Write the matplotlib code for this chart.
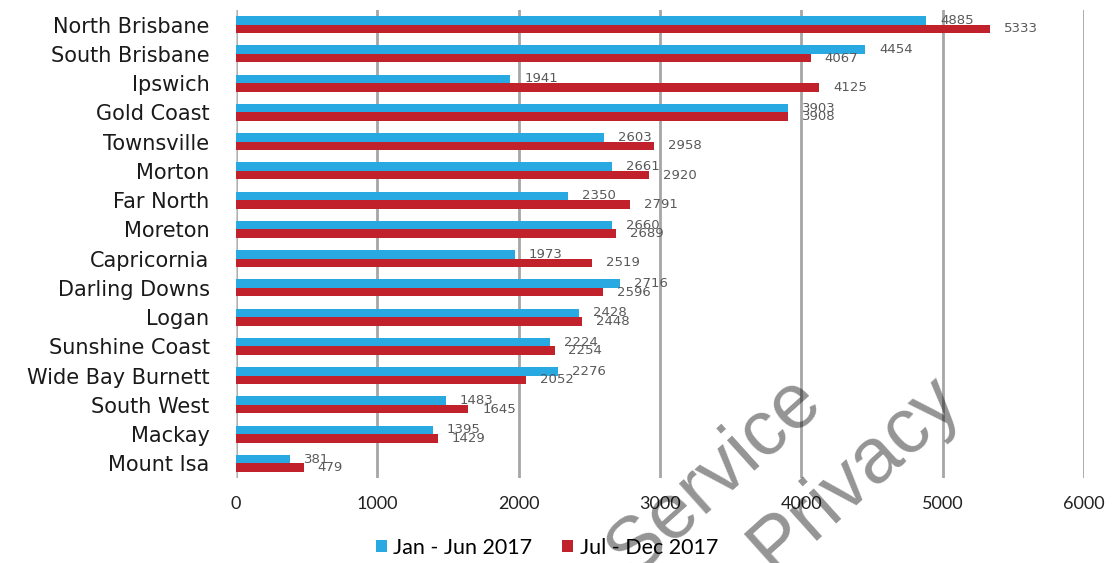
import matplotlib
matplotlib.use("Agg")
import matplotlib.pyplot as plt
import numpy as np

regions = ["North Brisbane", "South Brisbane", "Ipswich", "Gold Coast", "Townsville",
           "Morton", "Far North", "Moreton", "Capricornia", "Darling Downs", "Logan",
           "Sunshine Coast", "Wide Bay Burnett", "South West", "Mackay", "Mount Isa"]
jan_jun_2017 = [4885, 4454, 1941, 3903, 2603, 2661, 2350, 2660, 1973, 2716, 2428,
                2224, 2276, 1483, 1395, 381]
jul_dec_2017 = [5333, 4067, 4125, 3908, 2958, 2920, 2791, 2689, 2519, 2596, 2448,
                2254, 2052, 1645, 1429, 479]
series_names = ["Jan - Jun 2017", "Jul - Dec 2017"]
x_ticks = [0, 1000, 2000, 3000, 4000, 5000, 6000]

blue = "#29A9E1"
red = "#C1212B"

fig = plt.figure(figsize=(11.18, 5.63), dpi=100)
ax = fig.add_axes([236 / 1118, 1 - 478 / 563, (1084 - 236) / 1118, (478 - 10) / 563])

y = np.arange(len(regions))
h = 0.29
b1 = ax.barh(y - h / 2, jan_jun_2017, height=h, color=blue, label=series_names[0], zorder=3)
b2 = ax.barh(y + h / 2, jul_dec_2017, height=h, color=red, label=series_names[1], zorder=3)

# value labels just past the end of each bar
for bars, vals in ((b1, jan_jun_2017), (b2, jul_dec_2017)):
    for rect, v in zip(bars, vals):
        ax.annotate(str(v), (v, rect.get_y() + rect.get_height() / 2),
                    xytext=(10, 0), textcoords="offset points", va="center", ha="left",
                    fontsize=9.5, color="#595959", family="DejaVu Sans", zorder=4)

ax.set_xlim(0, 6000)
ax.set_ylim(len(regions) - 0.5, -0.5)
ax.set_xticks(x_ticks)
ax.set_xticklabels([str(t) for t in x_ticks], fontsize=13, family="Lato", color="#222222")
ax.set_yticks(y)
ax.set_yticklabels(regions, fontsize=15, family="DejaVu Sans", color="#1a1a1a")
ax.tick_params(axis="both", length=0)
ax.tick_params(axis="x", pad=13)
ax.tick_params(axis="y", pad=19)
for s in ax.spines.values():
    s.set_visible(False)
ax.grid(axis="x", color="#A6A6A6", linewidth=2, zorder=1)
ax.axvline(0, color="#D0D0D0", linewidth=1.5, zorder=2)

fig.legend(handles=[b1, b2], labels=series_names, loc="center",
           bbox_to_anchor=(547 / 1118, 1 - 548 / 563), ncol=2, frameon=False,
           prop={"family": "Lato", "size": 15.5}, handlelength=0.5, handleheight=0.5,
           columnspacing=1.4, handletextpad=0.3)

# translucent diagonal stamp text
stamp = dict(fontsize=56, family="Liberation Sans", color="black", alpha=0.42,
             ha="center", va="center", rotation=42, zorder=10)
fig.text(714 / 1118, 1 - 476 / 563, "Service", **stamp)
fig.text(855 / 1118, 1 - 474 / 563, "Privacy", **stamp)

fig.savefig("out.png", dpi=100)
